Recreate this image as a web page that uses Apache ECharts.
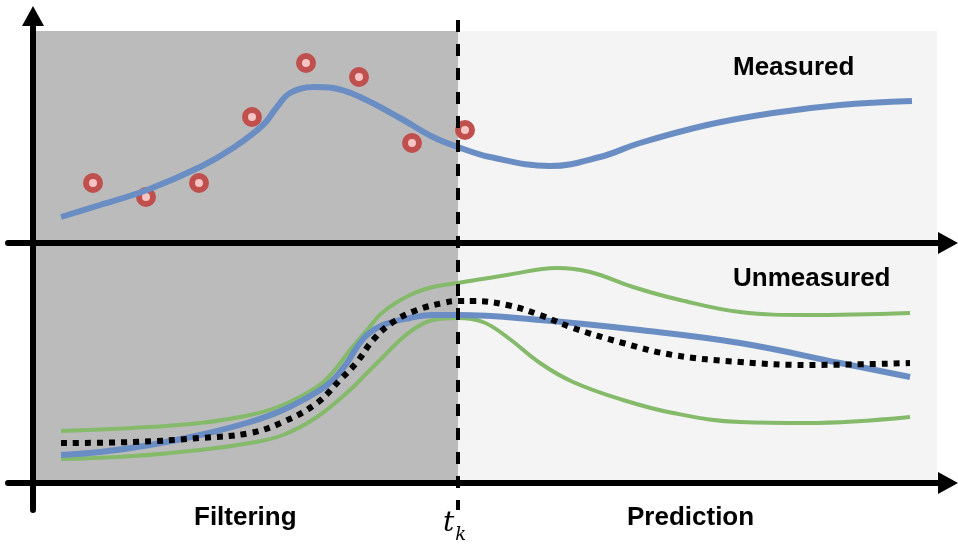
<!DOCTYPE html>
<html>
<head>
<meta charset="utf-8">
<script src="https://cdn.jsdelivr.net/npm/echarts@6/dist/echarts.min.js"></script>
<style>html,body{margin:0;padding:0;background:#fff}#c{width:958px;height:545px}</style>
</head>
<body>
<div id="c"></div>
<script>
// time of the split between filtering and prediction
const tK = 17;
const tEnd = 36.16;
// Top panel: measured state (fitted curve) and observations
const measuredT = [1.12,2.68,4.56,6.68,8.0,9.2,9.76,10.28,11.2,12.0,13.08,14.68,16.0,17.0,18.28,20.68,22.68,24.28,26.96,29.6,32.28,35.16];
const measuredY = [2.6,3.8,5.3,7.6,9.5,11.8,13.6,15.0,15.6,15.5,14.6,12.5,10.6,9.6,8.6,7.7,8.6,10.0,11.8,13.0,13.8,14.2];
const obsT = [2.4,4.52,6.64,8.76,10.92,13.04,15.16,17.28];
const obsY = [6.0,4.6,6.0,12.6,18.0,16.6,10.0,11.3];
// Bottom panel: unmeasured state
const upperT = [1.12,4.0,6.68,8.68,10.0,11.36,12.0,12.68,13.36,14.0,15.08,16.0,17.0,18.96,20.96,22.28,24.0,25.88,28.28,30.96,35.08];
const upperY = [5.2,5.5,6.0,6.8,7.8,9.6,11.1,13.3,15.3,17.1,18.8,19.6,20.0,20.8,21.5,21.1,19.6,18.3,17.1,16.8,17.0];
const lowerT = [1.12,4.0,6.68,8.68,10.0,11.36,12.68,13.36,14.0,14.68,15.36,16.0,17.0,18.0,18.96,20.28,21.6,23.6,25.6,28.28,30.96,35.08];
const lowerY = [2.4,2.7,3.3,4.0,4.8,6.6,9.3,11.0,12.6,14.3,15.6,16.3,16.5,16.1,14.6,12.0,10.1,8.3,7.0,6.1,6.0,6.6];
const trueT = [1.12,2.68,4.68,6.68,8.68,10.0,11.36,12.0,12.56,12.96,13.36,14.0,15.08,16.0,17.0,20.28,24.28,28.28,32.28,35.08];
const trueY = [2.8,3.1,3.8,4.8,6.1,7.3,9.1,10.3,12.0,13.6,14.8,15.8,16.5,16.8,16.8,16.3,15.3,14.0,12.0,10.6];
const estT = [1.12,4.0,6.68,8.68,10.0,11.36,12.28,12.96,13.6,14.4,15.36,16.4,17.0,17.6,18.96,20.28,21.6,23.6,25.6,28.28,30.96,35.08];
const estY = [4.0,4.1,4.5,5.0,6.1,8.0,10.3,12.1,14.3,16.1,17.3,18.0,18.2,18.2,17.8,16.8,15.5,14.0,12.8,12.1,11.8,12.0];

const zip = (a, b) => a.map((v, i) => [v, b[i]]);
const BLUE = '#6a8ec3', GREEN = '#84ba6a', RED = '#c0504d', PINK = '#f6c4c2';

const chart = echarts.init(document.getElementById('c'), null, {renderer: 'canvas'});
const axLine = (sym) => ({show: true, onZero: true, symbol: sym, symbolSize: [22, 20], lineStyle: {color: '#000', width: 6}});
const hidden = {z: 10, axisTick: {show: false}, axisLabel: {show: false}, splitLine: {show: false}};

chart.setOption({
  animation: false,
  grid: [
    {left: 8, right: 10, top: 16, bottom: 302},
    {left: 8, right: 10, top: 243, bottom: 35}
  ],
  xAxis: [
    Object.assign({type: 'value', gridIndex: 0, min: -1, max: 36.6, axisLine: axLine(['none', 'triangle'])}, hidden),
    Object.assign({type: 'value', gridIndex: 1, min: -1, max: 36.6, axisLine: axLine(['none', 'triangle'])}, hidden)
  ],
  yAxis: [
    Object.assign({type: 'value', gridIndex: 0, min: 0, max: 22.7, axisLine: axLine(['none', 'triangle'])}, hidden),
    Object.assign({type: 'value', gridIndex: 1, min: -2.7, max: 24, axisLine: axLine(['none', 'none'])}, hidden)
  ],
  series: [
    {type: 'line', xAxisIndex: 0, yAxisIndex: 0, data: [], z: -5, silent: true,
      markArea: {silent: true, z: -5, data: [
        [{coord: [0, 0], itemStyle: {color: '#bbbbbb'}}, {coord: [tK, 21.2]}],
        [{coord: [tK, 0], itemStyle: {color: '#f4f4f4'}}, {coord: [tEnd, 21.2]}]
      ]},
      markLine: {silent: true, z: 20, symbol: 'none', label: {show: false}, lineStyle: {color: '#000', width: 4, type: [12, 12]},
        data: [[{coord: [tK, 22.3]}, {coord: [tK, 0]}]]}
    },
    {type: 'line', xAxisIndex: 1, yAxisIndex: 1, data: [], z: -5, silent: true,
      markArea: {silent: true, z: -5, data: [
        [{coord: [0, 0], itemStyle: {color: '#bbbbbb'}}, {coord: [tK, 24]}],
        [{coord: [tK, 0], itemStyle: {color: '#f4f4f4'}}, {coord: [tEnd, 24]}]
      ]},
      markLine: {silent: true, z: 20, symbol: 'none', label: {show: false}, lineStyle: {color: '#000', width: 4, type: [12, 12], dashOffset: 7},
        data: [[{coord: [tK, 24]}, {coord: [tK, -2.7]}]]}
    },
    {name: 'Measured', type: 'line', xAxisIndex: 0, yAxisIndex: 0, data: zip(measuredT, measuredY), smooth: 0.4,
      showSymbol: false, lineStyle: {color: BLUE, width: 6}},
    {name: 'Observations', type: 'scatter', xAxisIndex: 0, yAxisIndex: 0, data: zip(obsT, obsY), symbol: 'circle', symbolSize: 14,
      itemStyle: {color: PINK, borderColor: RED, borderWidth: 6, opacity: 1}},
    {name: 'Upper', type: 'line', xAxisIndex: 1, yAxisIndex: 1, data: zip(upperT, upperY), smooth: 0.4,
      showSymbol: false, lineStyle: {color: GREEN, width: 4}},
    {name: 'Lower', type: 'line', xAxisIndex: 1, yAxisIndex: 1, data: zip(lowerT, lowerY), smooth: 0.4,
      showSymbol: false, lineStyle: {color: GREEN, width: 4}},
    {name: 'True', type: 'line', xAxisIndex: 1, yAxisIndex: 1, data: zip(trueT, trueY), smooth: 0.4,
      showSymbol: false, lineStyle: {color: BLUE, width: 6}},
    {name: 'Estimate', type: 'line', xAxisIndex: 1, yAxisIndex: 1, data: zip(estT, estY), smooth: 0.4,
      showSymbol: false, lineStyle: {color: '#000', width: 6, type: [6, 6], cap: 'butt'}}
  ],
  graphic: [
    {type: 'text', left: 733, top: 55, style: {text: 'Measured', font: 'bold 26px "Liberation Sans", Arial, sans-serif', fill: '#000'}},
    {type: 'text', left: 733, top: 266, style: {text: 'Unmeasured', font: 'bold 26px "Liberation Sans", Arial, sans-serif', fill: '#000'}},
    {type: 'text', left: 194, top: 505, style: {text: 'Filtering', font: 'bold 26px "Liberation Sans", Arial, sans-serif', fill: '#000'}},
    {type: 'text', left: 627, top: 505, style: {text: 'Prediction', font: 'bold 26px "Liberation Sans", Arial, sans-serif', fill: '#000'}},
    {type: 'text', left: 443, top: 510, style: {text: '{t|t}{k|k}', rich: {
      t: {font: 'italic 28px "DejaVu Serif", "Liberation Serif", serif', fill: '#000', verticalAlign: 'top'},
      k: {font: 'italic 18px "DejaVu Serif", "Liberation Serif", serif', fill: '#000', padding: [16, 0, 0, 1]}
    }}}
  ]
});
</script>
</body>
</html>
